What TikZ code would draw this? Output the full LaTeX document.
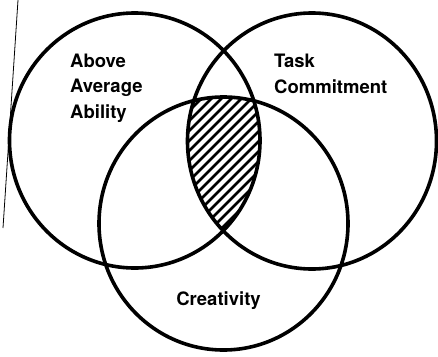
\documentclass[tikz,border=0pt]{standalone}
\usepackage{fontspec}
\setmainfont{TeX Gyre Heros}
\tikzset{
  ring/.style={draw=black, line width=3.6pt},
  hatchline/.style={draw=black, line width=2.6pt},
  label/.style={inner sep=0pt, align=left, font=\bfseries\fontsize{18.5}{25.5}\selectfont},
}
\begin{document}
\begin{tikzpicture}[x=1pt,y=-1pt]
\useasboundingbox (0,0) rectangle (438,356);
\fill[white] (0,0) rectangle (438,356);
% centres of the three rings
\coordinate (cA) at (134.75,140.5);
\coordinate (cT) at (312,141);
\coordinate (cC) at (223.5,223.5);
% hatched triple intersection
\begin{scope}
  \clip (cA) ellipse [x radius=125.25, y radius=127.5];
  \clip (cT) ellipse [x radius=124.5, y radius=128];
  \clip (cC) ellipse [x radius=124.5, y radius=126.5];
  \foreach \c in {250,260,...,520} {
    \draw[hatchline] (\c-250,250) -- (\c,0);
  }
\end{scope}
% rings
\draw[ring] (cA) ellipse [x radius=125.25, y radius=127.5];
\draw[ring] (cT) ellipse [x radius=124.5, y radius=128];
\draw[ring] (cC) ellipse [x radius=124.5, y radius=126.5];
% labels (base anchor = baseline of last line)
\node[label, anchor=base west] (ability) at (70,118) {Above\\Average\\Ability};
\node[label, anchor=base west] (task) at (274,93) {Task\\Commitment};
\node[label, anchor=base] (creat) at (218.5,305) {Creativity};
% thin scan edge line at left
\coordinate (e1) at (18,0);
\coordinate (e2) at (3,228);
\draw[line width=0.8pt] (e1) -- (e2);
\end{tikzpicture}
\end{document}
